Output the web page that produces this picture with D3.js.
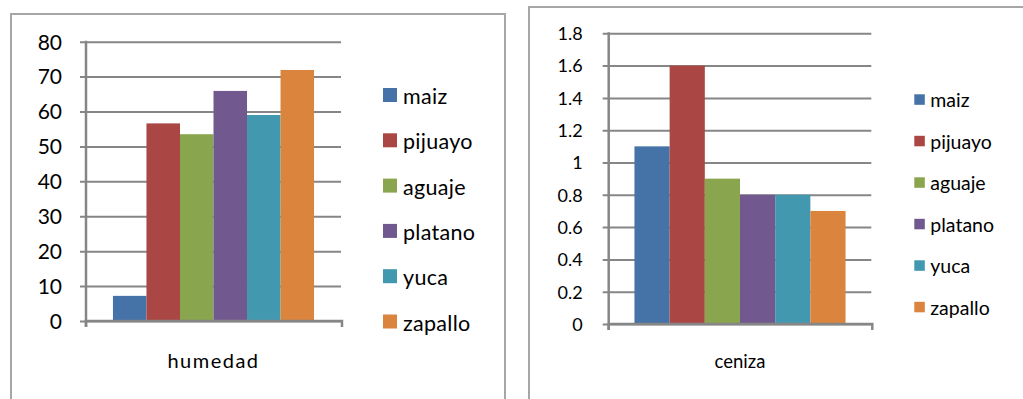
<!DOCTYPE html>
<html>
<head>
<meta charset="utf-8">
<script src="https://cdn.jsdelivr.net/npm/d3@7"></script>
<style>
  html, body { margin: 0; padding: 0; background: #fff; }
  svg { display: block; }
  text { font-family: Lato, "Open Sans", sans-serif; fill: #000; }
</style>
</head>
<body>
<svg id="chart" width="1023" height="399"></svg>
<script>
// Categories (one series per product) and measured values
const categories = ["maiz", "pijuayo", "aguaje", "platano", "yuca", "zapallo"];
const humedadValues = [7.2, 56.6, 53.5, 65.9, 59.0, 71.9];
const cenizaValues = [1.1, 1.6, 0.9, 0.8, 0.8, 0.7];
const humedadTicks = [0, 10, 20, 30, 40, 50, 60, 70, 80];
const cenizaTicks = [0, 0.2, 0.4, 0.6, 0.8, 1, 1.2, 1.4, 1.6, 1.8];
const colors = ["#4572A7", "#AA4643", "#89A54E", "#71588F", "#4198AF", "#DB843D"];

const svg = d3.select("#chart");
const axisColor = "#868686";

function drawPanel(cfg) {
  const g = svg.append("g");

  // outer chart frame
  g.append("rect")
    .attr("x", cfg.frame.x).attr("y", cfg.frame.y)
    .attr("width", cfg.frame.w).attr("height", cfg.frame.h)
    .attr("fill", "#fff").attr("stroke", "#a6a6a6").attr("stroke-width", 2);

  const y = d3.scaleLinear().domain([0, cfg.ticks[cfg.ticks.length - 1]])
    .range([cfg.bottom, cfg.top]);

  const x0 = d3.scaleBand().domain([cfg.group]).range([cfg.left, cfg.right])
    .paddingInner(0).paddingOuter(cfg.outerPad);
  const x1 = d3.scaleBand().domain(categories).range([0, x0.bandwidth()]).padding(0);

  // gridlines with outward tick marks
  const yAxis = d3.axisLeft(y).tickValues(cfg.ticks)
    .tickSize(-(cfg.right - cfg.left)).tickSizeOuter(0)
    .tickFormat(d => d3.format("~g")(d)).tickPadding(0);
  const ya = g.append("g").attr("transform", `translate(${cfg.left},0)`).call(yAxis);
  ya.select(".domain").remove();
  ya.selectAll(".tick line").attr("stroke", axisColor).attr("stroke-width", 2)
    .attr("x1", -6);
  ya.selectAll(".tick text")
    .attr("x", -cfg.labelGap)
    .attr("dy", "0.35em")
    .style("font-size", cfg.tickFont + "px")
    .attr("fill", "#000");

  // bars
  g.append("g").selectAll("rect")
    .data(cfg.values)
    .join("rect")
    .attr("x", (d, i) => x0(cfg.group) + x1(categories[i]))
    .attr("width", x1.bandwidth())
    .attr("y", d => y(d))
    .attr("height", d => y(0) - y(d))
    .attr("fill", (d, i) => colors[i]);

  // value axis line
  g.append("line")
    .attr("x1", cfg.left).attr("x2", cfg.left)
    .attr("y1", cfg.top - 1).attr("y2", cfg.bottom + 6)
    .attr("stroke", axisColor).attr("stroke-width", 2.5);

  // category axis with end tick marks
  const xAxis = d3.axisBottom(x0).tickValues([]).tickSizeOuter(6);
  const xa = g.append("g").attr("transform", `translate(0,${cfg.bottom})`).call(xAxis);
  xa.select(".domain").attr("stroke", axisColor).attr("stroke-width", 2.5)
    .attr("d", `M${cfg.left},6V0H${cfg.right + 1}V6`).attr("fill", "none");

  g.append("text")
    .attr("x", x0(cfg.group) + x0.bandwidth() / 2)
    .attr("y", cfg.labelY)
    .attr("text-anchor", "middle")
    .style("font-size", cfg.groupFont + "px")
    .style("letter-spacing", cfg.groupSpacing + "px")
    .text(cfg.group);

  // legend
  const lg = g.append("g").selectAll("g").data(categories).join("g")
    .attr("transform", (d, i) => `translate(${cfg.legend.x},${cfg.legend.y + i * cfg.legend.step})`);
  lg.append("rect")
    .attr("width", cfg.legend.sw).attr("height", cfg.legend.sw)
    .attr("fill", (d, i) => colors[i]);
  lg.append("text")
    .attr("x", cfg.legend.tx)
    .attr("y", cfg.legend.sw + cfg.legend.base)
    .style("font-size", cfg.legend.font + "px")
    .style("letter-spacing", cfg.legend.spacing + "px")
    .text(d => d);
}

drawPanel({
  group: "humedad",
  values: humedadValues,
  ticks: humedadTicks,
  frame: { x: 11, y: 14, w: 494, h: 400 },
  left: 86, right: 341, top: 41.7, bottom: 321,
  outerPad: 0.134,
  labelGap: 24, tickFont: 21,
  labelY: 367.5, groupFont: 20, groupSpacing: 1.5,
  legend: { x: 383, y: 88, step: 45.3, sw: 14, tx: 20, font: 21.5, spacing: 0.3, base: 2 }
});

drawPanel({
  group: "ceniza",
  values: cenizaValues,
  ticks: cenizaTicks,
  frame: { x: 529, y: 7, w: 520, h: 410 },
  left: 608.7, right: 871.3, top: 33.3, bottom: 324,
  outerPad: 0.122,
  labelGap: 26, tickFont: 18,
  labelY: 367.5, groupFont: 18.5, groupSpacing: 0,
  legend: { x: 914.3, y: 94.3, step: 41.5, sw: 10.5, tx: 16, font: 19.5, spacing: 0, base: 2.4 }
});
</script>
</body>
</html>
